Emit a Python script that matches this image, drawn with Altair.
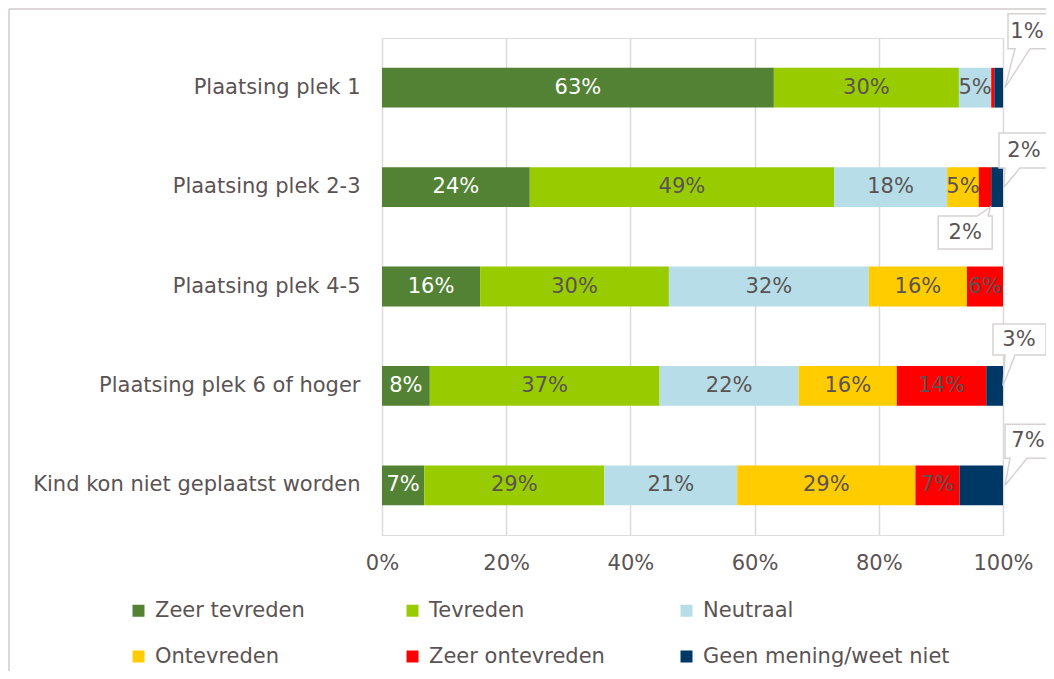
import altair as alt
import pandas as pd

# ---------------- data ----------------
categories = [
    "Plaatsing plek 1",
    "Plaatsing plek 2-3",
    "Plaatsing plek 4-5",
    "Plaatsing plek 6 of hoger",
    "Kind kon niet geplaatst worden",
]
series = [
    "Zeer tevreden",
    "Tevreden",
    "Neutraal",
    "Ontevreden",
    "Zeer ontevreden",
    "Geen mening/weet niet",
]
zeer_tevreden = [63.1, 23.8, 15.8, 7.7, 6.8]
tevreden = [29.8, 49.0, 30.4, 37.0, 29.0]
neutraal = [5.2, 18.2, 32.2, 22.4, 21.4]
ontevreden = [0.0, 5.1, 15.8, 15.8, 28.7]
zeer_ontevreden = [0.5, 2.0, 5.8, 14.4, 7.1]
geen_mening = [1.4, 1.9, 0.0, 2.7, 7.0]
x_ticks = [0, 20, 40, 60, 80, 100]

# segments whose value is shown in a callout box
callout_cats = [
    "Plaatsing plek 1",
    "Plaatsing plek 2-3",
    "Plaatsing plek 2-3",
    "Plaatsing plek 6 of hoger",
    "Kind kon niet geplaatst worden",
]
callout_series = [
    "Geen mening/weet niet",
    "Geen mening/weet niet",
    "Zeer ontevreden",
    "Geen mening/weet niet",
    "Geen mening/weet niet",
]

# ---------------- style ----------------
colors = ["#548235", "#99cc00", "#b7dee8", "#ffcc00", "#ff0000", "#003865"]
FONT = "DejaVu Sans"
TXT = "#5b5353"
FS = 21
# callout box shapes (pixel offsets relative to anchor) and text offsets
callout_paths = [
    "M 12 -39 L 5 -39 L 5 -74 L 57 -74 L 57 -39 L 27 -39 L 2 0 Z",
    "M 2 -19 L -4 -19 L -4 -54 L 47 -54 L 47 -19 L 17 -19 L 1 0 Z",
    "M -14 29 L -53 29 L -53 62 L 1 62 L 1 29 L -3 29 L -1 20 Z",
    "M 2 -31 L -10 -31 L -10 -62 L 43 -62 L 43 -31 L 12 -31 L 0 0 Z",
    "M 7 -27 L 2 -27 L 2 -61 L 55 -61 L 55 -27 L 24 -27 L 2 0 Z",
]
callout_dx = [24, 21, -26, 16, 25]
callout_dy = [-56, -36, 46, -46, -44]

values = [zeer_tevreden, tevreden, neutraal, ontevreden, zeer_ontevreden, geen_mening]
callout_set = set(zip(callout_cats, callout_series))

rows = []
for i, cat in enumerate(categories):
    cum = 0.0
    for j, s in enumerate(series):
        v = values[j][i]
        start, end = cum, cum + v
        cum = end
        rows.append(
            dict(
                cat=cat,
                series=s,
                value=v,
                start=start,
                end=end,
                mid=(start + end) / 2,
                label=f"{round(v)}%",
                inside=(v >= 1) and ((cat, s) not in callout_set),
                tcolor="#ffffff" if s == "Zeer tevreden" else TXT,
            )
        )
df = pd.DataFrame(rows)
df_bars = df[df["value"] > 0]
df_in = df[df["inside"]]

yscale = alt.Scale(domain=categories, paddingInner=0.6, paddingOuter=0.3)
xscale = alt.Scale(domain=[0, 100], nice=False)

y_enc = alt.Y(
    "cat:N",
    sort=categories,
    scale=yscale,
    axis=alt.Axis(
        title=None,
        domain=False,
        ticks=False,
        labelPadding=22,
        labelFontSize=FS,
        labelFont=FONT,
        labelColor=TXT,
        labelLimit=500,
    ),
)

bars = (
    alt.Chart(df_bars)
    .mark_bar()
    .encode(
        x=alt.X(
            "start:Q",
            scale=xscale,
            axis=alt.Axis(
                values=x_ticks,
                labelExpr="datum.value + '%'",
                title=None,
                domain=False,
                ticks=False,
                grid=True,
                gridColor="#dedada",
                gridWidth=1.5,
                labelPadding=17,
                labelFlush=False,
                labelFontSize=FS,
                labelFont=FONT,
                labelColor=TXT,
            ),
        ),
        x2="end:Q",
        y=y_enc,
        color=alt.Color(
            "series:N",
            scale=alt.Scale(domain=series, range=colors),
            legend=alt.Legend(
                title=None,
                orient="none",
                direction="horizontal",
                legendX=-254,
                legendY=562,
                columns=3,
                symbolType="square",
                symbolSize=144,
                symbolStrokeWidth=0,
                labelFontSize=FS,
                labelFont=FONT,
                labelColor=TXT,
                labelLimit=500,
                labelOffset=6,
                gridAlign="all",
                columnPadding=0,
                rowPadding=24,
                padding=0,
            ),
        ),
        order=alt.Order("start:Q"),
    )
)

texts = (
    alt.Chart(df_in)
    .mark_text(font=FONT, fontSize=FS, baseline="middle", align="center")
    .encode(
        x=alt.X("mid:Q", scale=xscale),
        y=alt.Y("cat:N", sort=categories, scale=yscale),
        text="label:N",
        color=alt.Color("tcolor:N", scale=None),
    )
)

layers = [bars, texts]

for k, (c, s) in enumerate(zip(callout_cats, callout_series)):
    sub = df[(df["cat"] == c) & (df["series"] == s)]
    box = (
        alt.Chart(sub)
        .mark_point(
            shape=callout_paths[k],
            size=4,
            filled=True,
            fill="#ffffff",
            stroke="#d6d2d2",
            strokeWidth=1.5,
            opacity=1,
        )
        .encode(
            x=alt.X("end:Q", scale=xscale),
            y=alt.Y("cat:N", sort=categories, scale=yscale),
        )
    )
    lab = (
        alt.Chart(sub)
        .mark_text(
            font=FONT,
            fontSize=FS,
            color=TXT,
            align="center",
            baseline="middle",
            dx=callout_dx[k],
            dy=callout_dy[k],
        )
        .encode(
            x=alt.X("end:Q", scale=xscale),
            y=alt.Y("cat:N", sort=categories, scale=yscale),
            text="label:N",
        )
    )
    layers += [box, lab]

frame_src = pd.DataFrame({"a": [0]})
frame_top = alt.Chart(frame_src).mark_rule(color="#dcd8d8", strokeWidth=2).encode(
    x=alt.value(-373), x2=alt.value(700), y=alt.value(-29), y2=alt.value(-29)
)
frame_left = alt.Chart(frame_src).mark_rule(color="#dcd8d8", strokeWidth=2).encode(
    x=alt.value(-373), x2=alt.value(-373), y=alt.value(-29), y2=alt.value(700)
)
layers += [frame_top, frame_left]

chart = (
    alt.layer(*layers)
    .properties(
        width=621,
        height=497,
        autosize=alt.AutoSizeParams(type="none"),
        padding={"left": 374, "top": 30, "right": 43, "bottom": 136},
    )
    .configure_view(stroke=None)
    .configure(font=FONT)
)

chart.save("out.html", embed_options={"renderer": "svg", "actions": False})
